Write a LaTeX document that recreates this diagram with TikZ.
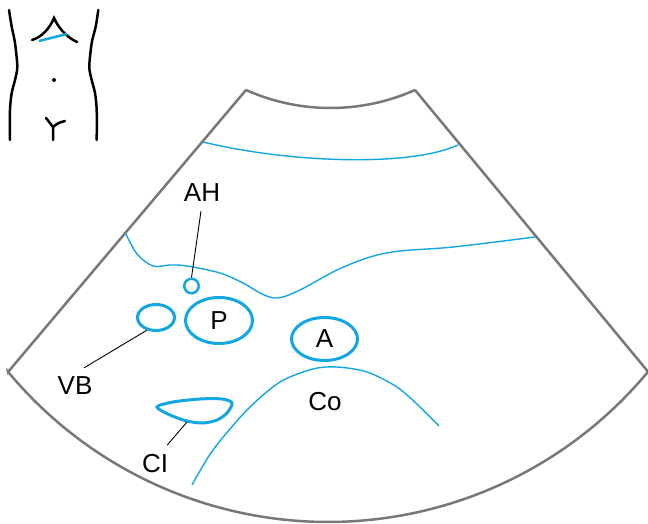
\documentclass[tikz,border=0pt]{standalone}
\usepackage{fontspec}
\setmainfont{Liberation Sans}
\usetikzlibrary{shapes.geometric,calc}
\definecolor{scanblue}{RGB}{18,166,226}
\definecolor{fangray}{RGB}{120,120,120}
\begin{document}
\begin{tikzpicture}[x=1pt,y=-1pt,
  fan/.style={draw=fangray,line width=2.5pt,line join=miter},
  echo/.style={draw=scanblue,line width=1.4pt},
  organ/.style={ellipse,draw=scanblue,line width=3pt,inner sep=0pt,font=\fontsize{26}{30}\selectfont},
  lbl/.style={inner sep=0pt,font=\fontsize{26}{30}\selectfont},
  leader/.style={draw=black,line width=0.9pt},
  body/.style={draw=black,line width=2.5pt,line cap=round}]
\useasboundingbox (0,0) rectangle (648,524);

% torso pictogram
\draw[body] plot[smooth] coordinates {(9,10) (11.7,26.7) (15,43) (17.3,66.7) (15,80) (11.7,93) (10,110) (10,140)};
\draw[body] plot[smooth] coordinates {(98.3,10) (95.7,26.7) (91.7,43) (89.3,66.7) (91.7,80) (95,93) (96.7,110) (96.7,140)};
\draw[body] (32,40) .. controls (42,37) and (50,28) .. (54,18) .. controls (58,27) and (66,37) .. (77,42);
\draw[scanblue,line width=2.5pt] (39,41) -- (67,34);
\fill (54,80) circle (2pt);
\draw[body] (46,118) .. controls (49,123) .. (53,127) -- (53,140);
\draw[body] (65,121) .. controls (58,123) .. (53,127);

% sector of the scan
\draw[fan] (246,90) -- (8,372)
  -- plot[domain=140.3:39.7,samples=80] ({328+416*cos(\x)},{106+416*sin(\x)})
  -- (415,90)
  -- plot[domain=65.9:114.1,samples=40] ({330.5+207.3*cos(\x)},{-99.3+207.3*sin(\x)})
  -- cycle;

% echo lines
\draw[echo] (203,142) .. controls (290,163) and (410,167) .. (458,145);
\draw[echo] plot[smooth,tension=0.55] coordinates {(126,234) (137,254) (153,266) (170,265) (187,266) (220,273) (243,283) (262,294) (278,298) (300,290) (337,270) (370,257) (400,251) (453,247) (535,237)};
\draw[echo] plot[smooth] coordinates {(192,485) (213,450) (247,410) (280,382) (313,369) (337,367) (367,372) (397,387) (420,407) (439,426)};

% structures
\node[organ,circle,minimum size=14.5pt,line width=2.5pt] (ah) at (191.5,286) {};
\node[organ,minimum width=67pt,minimum height=46pt] (p) at (219,320.5) {P};
\node[organ,minimum width=66pt,minimum height=43pt] (a) at (324.5,339) {A};
\node[organ,minimum width=37pt,minimum height=26pt] (vb) at (156,317.5) {};
\draw[scanblue,line width=3pt] plot[smooth cycle] coordinates {(157,407) (173,402) (200,399) (222,399) (232,403) (227,413) (217,420) (203,423) (187,421) (170,415)};
\coordinate (cibot) at (187,422);

% labels
\node[lbl] (ahlab) at (202,193) {AH};
\node[lbl] (vblab) at (75,386) {VB};
\node[lbl] (cilab) at (155,463.5) {CI};
\node[lbl] (colab) at (325,402) {Co};

% leader lines
\draw[leader] ($(ahlab.south)+(-1,9)$) -- (ah.north);
\draw[leader] ($(vblab.north)+(9,-9)$) -- (vb.234);
\draw[leader] ($(cilab.north east)+(-1,-9)$) -- (cibot);
\end{tikzpicture}
\end{document}
